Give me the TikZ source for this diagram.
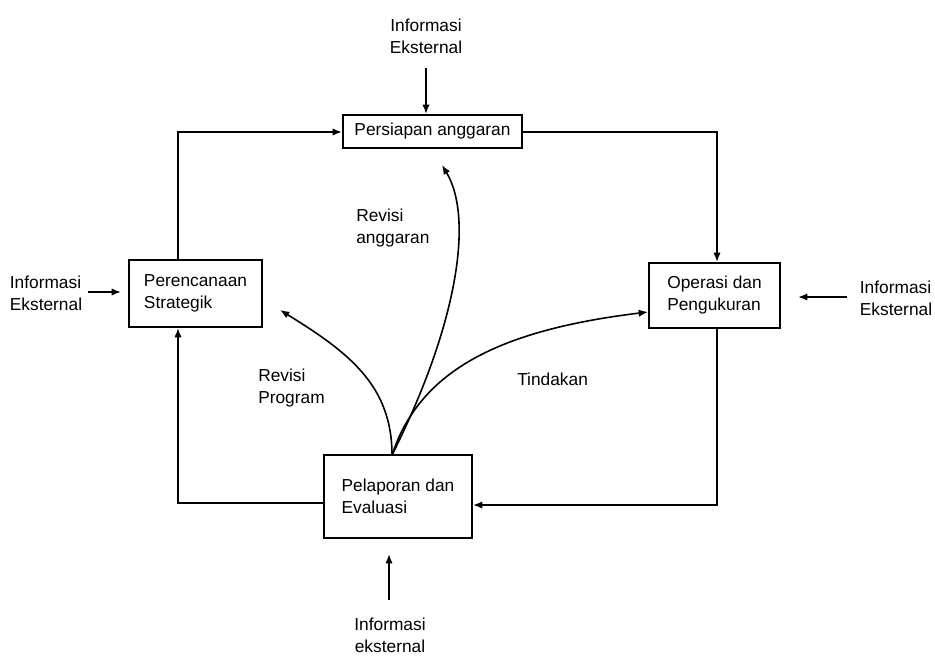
\documentclass[tikz,border=0pt]{standalone}
\usepackage{fontspec}
\setmainfont{Liberation Sans}
\usetikzlibrary{arrows.meta}
\begin{document}
\begin{tikzpicture}[x=0.75pt,y=-0.75pt,
  txt/.style={font=\fontsize{13}{16.5}\selectfont, inner sep=0pt},
  box/.style={draw, line width=1.4pt, txt, align=left},
  flow/.style={line width=1.4pt, -{Latex[length=7pt,width=5.5pt]}},
  curve/.style={line width=1.2pt, -{Latex[length=7pt,width=5.5pt]}}]
\useasboundingbox (0,0) rectangle (935,657);

% process boxes
\node[box, minimum width=179*0.75pt, minimum height=33*0.75pt] (pre) at (432.5,131.5) {Persiapan anggaran};
\node[box, minimum width=133*0.75pt, minimum height=67*0.75pt] (per) at (195.5,293.5) {Perencanaan\\Strategik};
\node[box, minimum width=131*0.75pt, minimum height=65*0.75pt] (ops) at (714.5,295.5) {Operasi dan\\Pengukuran};
\node[box, minimum width=148*0.75pt, minimum height=83*0.75pt] (pel) at (398,496.5) {Pelaporan dan\\Evaluasi};

% external information labels
\node[txt, align=center] (infT) at (426,36) {Informasi\\Eksternal};
\node[txt, align=left] (infL) at (46,293) {Informasi\\Eksternal};
\node[txt, align=left] (infR) at (896,298) {Informasi\\Eksternal};
\node[txt, align=center] (infB) at (390,635) {Informasi\\eksternal};

% corners of the outer loop
\coordinate (cL) at (178,503);
\coordinate (cT) at (178,132);
\coordinate (cR) at (717,132);
\coordinate (cB) at (717,505);

\draw[flow] (pel.west |- cL) -- (cL) -- (cL |- per.south);
\draw[flow] (cT |- per.north) -- (cT) -- (cT -| pre.west);
\draw[flow] (pre.east |- cR) -- (cR) -- (cR |- ops.north);
\draw[flow] (cR |- ops.south) -- (cB) -- (cB -| pel.east);

% external information arrows
\coordinate (sT) at (426,68);
\coordinate (sL) at (88,292);
\coordinate (sR) at (847,297);
\coordinate (sB) at (389,600);
\draw[flow] (sT) -- (sT |- pre.north);
\draw[flow, shorten >=5.25pt] (sL) -- (sL -| per.west);
\draw[flow, shorten >=12.75pt] (sR) -- (sR -| ops.east);
\draw[flow, shorten >=11.25pt] (sB) -- (sB |- pel.south);

% feedback curves from reporting and evaluation
\coordinate (src) at (392,455);
\coordinate (eA) at (442,165);
\coordinate (eP) at (280,310);
\draw[curve] (src) .. controls (455,330) and (475,220) .. (eA);
\draw[curve] (src) .. controls (392,385) and (348,352) .. (eP);
\draw[curve] (src) .. controls (420,370) and (500,330) .. (ops.west |- 0,312);

% curve labels
\node[txt, align=left, anchor=west] (lA) at (356,228) {Revisi\\anggaran};
\node[txt, align=left, anchor=west] (lP) at (258,388) {Revisi\\Program};
\node[txt, anchor=west] (lT) at (517,379) {Tindakan};
\end{tikzpicture}
\end{document}
